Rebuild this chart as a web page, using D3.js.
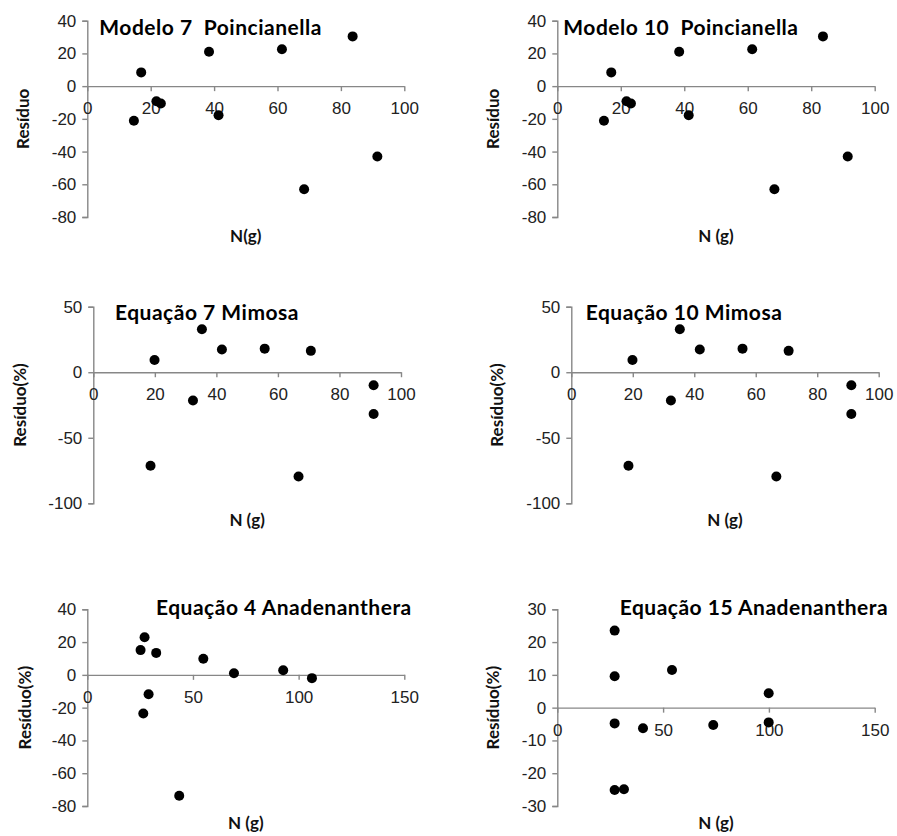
<!DOCTYPE html>
<html>
<head>
<meta charset="utf-8">
<script src="https://cdn.jsdelivr.net/npm/d3@7"></script>
<style>
  body { margin: 0; background: #fff; }
  svg { display: block; font-family: Lato, "Open Sans", sans-serif; }
  .axis path, .axis line { stroke: #878787; stroke-width: 1.4; }
  .axis text { font-size: 17px; fill: #222; }
  .title { font-size: 21px; font-weight: bold; fill: #000; white-space: pre; letter-spacing: 0.5px; }
  .axlabel { font-size: 17px; font-weight: bold; fill: #111; }
  .dot { fill: #000; }
</style>
</head>
<body>
<div id="chart"></div>
<script>
// data
var poinN = [17.0, 38.4, 61.4, 83.7, 21.8, 23.2, 14.7, 41.4, 68.4, 91.5];
var poinRes = [8.4, 21.0, 22.6, 30.4, -9.2, -10.6, -21.2, -17.8, -63.0, -43.0];

var mimN = [19.9, 35.3, 41.8, 55.7, 70.7, 91.1, 91.1, 32.4, 18.6, 66.7];
var mimRes = [9.4, 32.8, 17.3, 18.0, 16.3, -9.9, -31.8, -21.6, -71.4, -79.6];

var anad4N = [25.2, 27.1, 32.6, 54.9, 69.4, 92.7, 106.3, 29.0, 26.5, 43.5];
var anad4Res = [15.1, 23.0, 13.4, 9.8, 1.0, 2.8, -2.0, -11.8, -23.6, -73.7];

var anad15N = [27.1, 27.1, 54.2, 99.9, 27.1, 40.5, 73.7, 99.9, 27.1, 31.5];
var anad15Res = [23.5, 9.6, 11.5, 4.4, -4.8, -6.3, -5.3, -4.5, -25.1, -24.9];

var titles = ['Modelo 7  Poincianella', 'Modelo 10  Poincianella',
              'Equação 7 Mimosa', 'Equação 10 Mimosa',
              'Equação 4 Anadenanthera', 'Equação 15 Anadenanthera'];
var xTitles = ['N(g)', 'N (g)', 'N (g)', 'N (g)', 'N (g)', 'N (g)'];
var yTitles = ['Resíduo', 'Resíduo', 'Resíduo(%)', 'Resíduo(%)', 'Resíduo(%)', 'Resíduo(%)'];
var xTicks1 = [0, 20, 40, 60, 80, 100];
var xTicks2 = [0, 50, 100, 150];
var yTicksPoin = [40, 20, 0, -20, -40, -60, -80];
var yTicksMim = [50, 0, -50, -100];
var yTicksAnad4 = [40, 20, 0, -20, -40, -60, -80];
var yTicksAnad15 = [30, 20, 10, 0, -10, -20, -30];

var w = 897, h = 836;
var svg = d3.select('#chart').append('svg')
    .attr('width', w)
    .attr('height', h);

// plain hyphen minus, like the original
var fmt = function (d) { return String(d); };

// panel layout (pixels)
var panels = [
  { x: poinN, y: poinRes, xt: xTicks1, yt: yTicksPoin, px: [87.3, 404.3], py: [217, 20.7], tx: 99.3, ty: 35, yl: 23, xl: 236 },
  { x: poinN, y: poinRes, xt: xTicks1, yt: yTicksPoin, px: [557.3, 874.7], py: [217, 20.7], tx: 563.3, ty: 35, yl: 493, xl: 236 },
  { x: mimN, y: mimRes, xt: xTicks1, yt: yTicksMim, px: [93.3, 401], py: [503.3, 306.7], tx: 115, ty: 319.5, yl: 20, xl: 520 },
  { x: mimN, y: mimRes, xt: xTicks1, yt: yTicksMim, px: [571.3, 878.7], py: [503.3, 306.7], tx: 585.7, ty: 319.5, yl: 497.3, xl: 520 },
  { x: anad4N, y: anad4Res, xt: xTicks2, yt: yTicksAnad4, px: [87.3, 404.3], py: [806, 609.3], tx: 156, ty: 614.5, yl: 25, xl: 823 },
  { x: anad15N, y: anad15Res, xt: xTicks2, yt: yTicksAnad15, px: [557.3, 874.7], py: [806, 609.3], tx: 619.7, ty: 614.5, yl: 493, xl: 823 }
];

panels.forEach(function (p, i) {
    var xScale = d3.scaleLinear()
        .domain(d3.extent(p.xt))
        .range(p.px);
    var yScale = d3.scaleLinear()
        .domain(d3.extent(p.yt))
        .range(p.py);

    var g = svg.append('g');

    var yAxis = d3.axisLeft(yScale)
        .tickValues(p.yt)
        .tickFormat(fmt)
        .tickSize(5)
        .tickPadding(6)
        .tickSizeOuter(5);
    var xAxis = d3.axisBottom(xScale)
        .tickValues(p.xt)
        .tickFormat(fmt)
        .tickSize(5)
        .tickPadding(11)
        .tickSizeOuter(0);

    g.append('g')
        .attr('class', 'y axis')
        .attr('transform', `translate(${p.px[0]},0)`)
        .call(yAxis);

    g.append('g')
        .attr('class', 'x axis')
        .attr('transform', `translate(0,${yScale(0)})`)
        .call(xAxis);

    g.selectAll('circle')
        .data(p.x.map(function (v, j) { return [v, p.y[j]]; }))
        .enter()
        .append('circle')
        .attr('class', 'dot')
        .attr('cx', function (d) { return xScale(d[0]); })
        .attr('cy', function (d) { return yScale(d[1]); })
        .attr('r', 5);

    g.append('text')
        .attr('class', 'title')
        .attr('x', p.tx)
        .attr('y', p.ty)
        .text(titles[i]);

    g.append('text')
        .attr('class', 'axlabel')
        .attr('text-anchor', 'middle')
        .attr('x', (p.px[0] + p.px[1]) / 2)
        .attr('y', p.xl)
        .attr('dy', '0.35em')
        .text(xTitles[i]);

    g.append('text')
        .attr('class', 'axlabel')
        .attr('text-anchor', 'middle')
        .attr('transform', `translate(${p.yl},${(p.py[0] + p.py[1]) / 2}) rotate(-90)`)
        .attr('dy', '0.35em')
        .text(yTitles[i]);
});
</script>
</body>
</html>
